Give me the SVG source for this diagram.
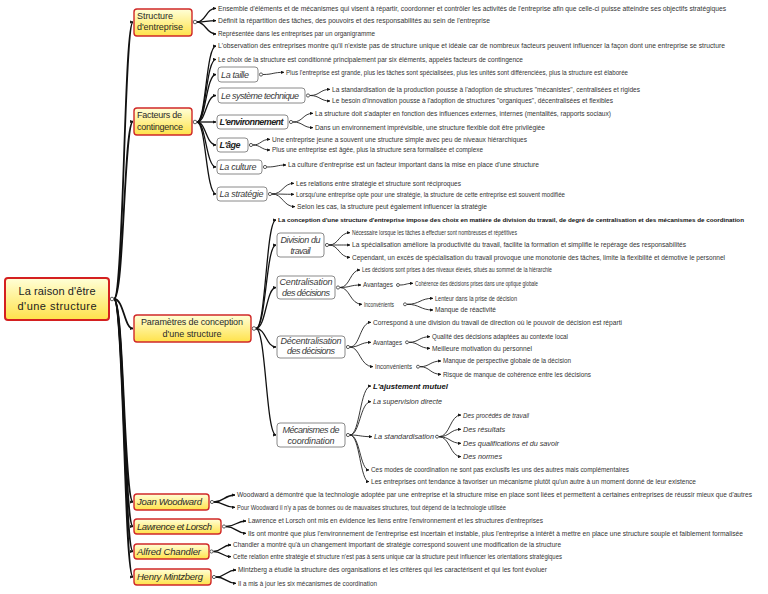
<svg xmlns="http://www.w3.org/2000/svg" width="768" height="594" viewBox="0 0 768 594">
<defs>
<linearGradient id="gy" x1="0" y1="0" x2="0" y2="1">
<stop offset="0" stop-color="#ffffd8"/>
<stop offset="1" stop-color="#ffe24a"/>
</linearGradient>
<marker id="ar" viewBox="0 0 6 6" refX="5.5" refY="3" markerWidth="3.2" markerHeight="3.2" markerUnits="userSpaceOnUse" orient="auto">
<path d="M0,0 L6,3 L0,6 Z" fill="#111"/>
</marker>
<style>
.c1{fill:none;stroke:#111;stroke-width:1.8;marker-end:url(#ar)}
.c2{fill:none;stroke:#111;stroke-width:1.3;marker-end:url(#ar)}
.c3{fill:none;stroke:#222;stroke-width:0.9;marker-end:url(#ar)}
.h{fill:#fff;stroke:#333;stroke-width:0.8}
.rootb{fill:url(#gy);stroke:#d42020;stroke-width:2}
.l1b{fill:url(#gy);stroke:#d02828;stroke-width:1.4}
.sb{fill:#fff;stroke:#8a8a8a;stroke-width:1}
text{font-family:"Liberation Sans",Arial,sans-serif}
.rt{font-size:11px;fill:#222;text-anchor:middle}
.l1t{font-size:9px;fill:#2a2a2a}
.l1i{font-size:9.5px;fill:#2a2a2a;font-style:italic}
.st{font-size:9px;fill:#3a3a3a;font-style:italic}
.stb{font-size:9px;fill:#222;font-style:italic;font-weight:bold}
.m{text-anchor:middle}
.lf{font-size:6.3px;fill:#333}
.lfb{font-size:6.1px;fill:#111;font-weight:bold}
.lfi{font-size:7px;fill:#333;font-style:italic}
.lfbi{font-size:7px;fill:#111;font-style:italic;font-weight:bold}
</style>
</defs>
<rect width="768" height="594" fill="#fff"/>

<g id="connectors">
<path class="c1" d="M114,299 C124,299 124,22 133,22"/>
<path class="c1" d="M114,299 C124,299 124,121.5 133,121.5"/>
<path class="c1" d="M114,299 C124,299 124,328.5 133,328.5"/>
<path class="c1" d="M114,299 C124,299 124,502 133,502"/>
<path class="c1" d="M114,299 C124,299 124,526.5 133,526.5"/>
<path class="c1" d="M114,299 C124,299 124,551.5 133,551.5"/>
<path class="c1" d="M114,299 C124,299 124,577 133,577"/>
<circle class="h" cx="112" cy="299" r="1.8"/>
<path class="c2" d="M197,22 C206,22 206,8.3 216,8.3"/>
<path class="c2" d="M197,22 C206,22 206,20.7 216,20.7"/>
<path class="c2" d="M197,22 C206,22 206,34 216,34"/>
<circle class="h" cx="195" cy="22" r="1.8"/>
<path class="c2" d="M197,122 C206,122 206,46 216,46"/>
<path class="c2" d="M197,122 C206,122 206,59.3 216,59.3"/>
<path class="c2" d="M197,122 C206,122 206,74.5 216,74.5"/>
<path class="c2" d="M197,122 C206,122 206,95.5 216,95.5"/>
<path class="c2" d="M197,122 C206,122 206,122 216,122"/>
<path class="c2" d="M197,122 C206,122 206,145 216,145"/>
<path class="c2" d="M197,122 C206,122 206,167 216,167"/>
<path class="c2" d="M197,122 C206,122 206,194 216,194"/>
<circle class="h" cx="195" cy="122" r="1.8"/>
<path class="c3" d="M263,74.5 C273,74.5 273,72.3 284,72.3"/>
<circle class="h" cx="261" cy="74.5" r="1.6"/>
<path class="c3" d="M310,95.5 C320,95.5 320,89.3 330,89.3"/>
<path class="c3" d="M310,95.5 C320,95.5 320,101 330,101"/>
<circle class="h" cx="308" cy="95.5" r="1.6"/>
<path class="c3" d="M293,122 C303,122 303,113.3 313,113.3"/>
<path class="c3" d="M293,122 C303,122 303,127.7 313,127.7"/>
<circle class="h" cx="291" cy="122" r="1.6"/>
<path class="c3" d="M253,145 C261,145 261,139.3 270,139.3"/>
<path class="c3" d="M253,145 C261,145 261,150 270,150"/>
<circle class="h" cx="251" cy="145" r="1.6"/>
<path class="c3" d="M267,167 C277,167 277,165 286,165"/>
<circle class="h" cx="265" cy="167" r="1.6"/>
<path class="c3" d="M272,194 C283,194 283,183.3 294,183.3"/>
<path class="c3" d="M272,194 C283,194 283,194.3 294,194.3"/>
<path class="c3" d="M272,194 C283,194 283,206.7 295,206.7"/>
<circle class="h" cx="270" cy="194" r="1.6"/>
<path class="c2" d="M256,328.5 C266,328.5 266,220 276,220"/>
<path class="c2" d="M256,328.5 C266,328.5 266,245 276,245"/>
<path class="c2" d="M256,328.5 C266,328.5 266,287.5 276,287.5"/>
<path class="c2" d="M256,328.5 C266,328.5 266,347 276,347"/>
<path class="c2" d="M256,328.5 C266,328.5 266,435 276,435"/>
<circle class="h" cx="254" cy="328.5" r="1.8"/>
<path class="c3" d="M329,245 C339,245 339,232.7 350,232.7"/>
<path class="c3" d="M329,245 C339,245 339,245 350,245"/>
<path class="c3" d="M329,245 C339,245 339,257.3 350,257.3"/>
<circle class="h" cx="327" cy="245" r="1.6"/>
<path class="c3" d="M340,287.5 C350,287.5 350,270 360,270"/>
<path class="c3" d="M340,287.5 C350,287.5 350,285 361,285"/>
<path class="c3" d="M340,287.5 C350,287.5 350,304.3 362,304.3"/>
<circle class="h" cx="338" cy="287.5" r="1.6"/>
<path class="c3" d="M400,285 C406,285 406,283.3 413,283.3"/>
<circle class="h" cx="398" cy="285" r="1.5"/>
<path class="c3" d="M407,304.3 C420,304.3 420,298.3 433,298.3"/>
<path class="c3" d="M407,304.3 C420,304.3 420,310 433,310"/>
<circle class="h" cx="405" cy="304.3" r="1.5"/>
<path class="c3" d="M350,347 C360,347 360,322.3 371,322.3"/>
<path class="c3" d="M350,347 C360,347 360,342.3 371,342.3"/>
<path class="c3" d="M350,347 C360,347 360,366.7 373,366.7"/>
<circle class="h" cx="348" cy="347" r="1.6"/>
<path class="c3" d="M409,342.3 C419,342.3 419,336.7 430,336.7"/>
<path class="c3" d="M409,342.3 C419,342.3 419,348.3 430,348.3"/>
<circle class="h" cx="407" cy="342.3" r="1.5"/>
<path class="c3" d="M420,366.7 C430,366.7 430,361 441,361"/>
<path class="c3" d="M420,366.7 C430,366.7 430,374.3 441,374.3"/>
<circle class="h" cx="418" cy="366.7" r="1.5"/>
<path class="c3" d="M350,435 C360,435 360,386 371,386"/>
<path class="c3" d="M350,435 C360,435 360,401.7 371,401.7"/>
<path class="c3" d="M350,435 C360,435 360,436.7 372,436.7"/>
<path class="c3" d="M350,435 C360,435 360,470 369,470"/>
<path class="c3" d="M350,435 C360,435 360,481.7 369,481.7"/>
<circle class="h" cx="348" cy="435" r="1.6"/>
<path class="c3" d="M439,436.7 C450,436.7 450,415 461,415"/>
<path class="c3" d="M439,436.7 C450,436.7 450,429.3 461,429.3"/>
<path class="c3" d="M439,436.7 C450,436.7 450,443.3 461,443.3"/>
<path class="c3" d="M439,436.7 C450,436.7 450,456.7 461,456.7"/>
<circle class="h" cx="437" cy="436.7" r="1.5"/>
<path class="c2" d="M214,502 C224,502 224,495 235,495"/>
<path class="c2" d="M214,502 C224,502 224,507.3 235,507.3"/>
<circle class="h" cx="212" cy="502" r="1.6"/>
<path class="c2" d="M226,526.5 C236,526.5 236,521 246,521"/>
<path class="c2" d="M226,526.5 C236,526.5 236,533.3 246,533.3"/>
<circle class="h" cx="224" cy="526.5" r="1.6"/>
<path class="c2" d="M213.5,551.5 C222,551.5 222,545 231,545"/>
<path class="c2" d="M213.5,551.5 C222,551.5 222,556.7 231,556.7"/>
<circle class="h" cx="211.5" cy="551.5" r="1.6"/>
<path class="c2" d="M216,577 C226,577 226,570 236,570"/>
<path class="c2" d="M216,577 C226,577 226,583.3 236,583.3"/>
<circle class="h" cx="214" cy="577" r="1.6"/>
</g>

<g id="root">
<rect class="rootb" x="5" y="278" width="104" height="42" rx="3"/>
<text class="rt" x="57" y="294.5" textLength="77">La raison d'être</text>
<text class="rt" x="57" y="310" textLength="79">d'une structure</text>
</g>

<g id="n-structure">
<rect class="l1b" x="134" y="9" width="58" height="27" rx="3"/>
<text class="l1t" x="137" y="19" textLength="36">Structure</text>
<text class="l1t" x="137" y="30" textLength="46">d'entreprise</text>
</g>
<g id="n-facteurs">
<rect class="l1b" x="134" y="108" width="58" height="27" rx="3"/>
<text class="l1t" x="137" y="118.3" textLength="45">Facteurs de</text>
<text class="l1t" x="137" y="130" textLength="46">contingence</text>
</g>
<g id="n-parametres">
<rect class="l1b" x="134" y="315" width="117" height="27" rx="3"/>
<text class="l1t m" x="192" y="324.5" textLength="102">Paramètres de conception</text>
<text class="l1t m" x="192" y="336.5" textLength="59">d'une structure</text>
</g>
<g id="n-woodward">
<rect class="l1b" x="134" y="494" width="75" height="16" rx="3"/>
<text class="l1i" x="137" y="505.3" textLength="65">Joan Woodward</text>
</g>
<g id="n-lawrence">
<rect class="l1b" x="134" y="519" width="87" height="15" rx="3"/>
<text class="l1i" x="137" y="529.8" textLength="75">Lawrence et Lorsch</text>
</g>
<g id="n-chandler">
<rect class="l1b" x="134" y="544" width="75" height="15" rx="3"/>
<text class="l1i" x="137" y="554.8" textLength="64">Alfred Chandler</text>
</g>
<g id="n-mintzberg">
<rect class="l1b" x="134" y="569" width="77" height="16" rx="3"/>
<text class="l1i" x="137" y="580.3" textLength="66">Henry Mintzberg</text>
</g>

<g id="n-taille"><rect class="sb" x="218" y="67" width="40" height="15" rx="3"/><text class="st" x="221" y="77.8" textLength="28">La taille</text></g>
<g id="n-systeme"><rect class="sb" x="218" y="88" width="87" height="15" rx="3"/><text class="st" x="221" y="98.8" textLength="78">Le système technique</text></g>
<g id="n-environnement"><rect class="sb" x="217" y="115" width="71" height="14" rx="3"/><text class="stb" x="219.5" y="125.2" textLength="64">L'environnement</text></g>
<g id="n-age"><rect class="sb" x="217" y="138" width="31" height="14" rx="3"/><text class="stb" x="219.5" y="148.2" textLength="21">L'âge</text></g>
<g id="n-culture"><rect class="sb" x="217" y="160" width="45" height="14" rx="3"/><text class="st" x="219.5" y="170.2" textLength="37">La culture</text></g>
<g id="n-strategie"><rect class="sb" x="217" y="187" width="50" height="14" rx="3"/><text class="st" x="219.5" y="197.2" textLength="44">La stratégie</text></g>

<g id="n-division"><rect class="sb" x="277" y="233" width="47" height="24" rx="3"/><text class="st m" x="300.5" y="243" textLength="40">Division du</text><text class="st m" x="300.5" y="253.7" textLength="20">travail</text></g>
<g id="n-centralisation"><rect class="sb" x="277" y="276" width="58" height="23" rx="3"/><text class="st m" x="306" y="284.7" textLength="53">Centralisation</text><text class="st m" x="306" y="295.7" textLength="48">des décisions</text></g>
<g id="n-decentralisation"><rect class="sb" x="277" y="336" width="68" height="22" rx="3"/><text class="st m" x="311" y="344.3" textLength="61">Décentralisation</text><text class="st m" x="311" y="354.3" textLength="48">des décisions</text></g>
<g id="n-mecanismes"><rect class="sb" x="277" y="423" width="68" height="24" rx="3"/><text class="st m" x="311" y="433" textLength="57">Mécanismes de</text><text class="st m" x="311" y="443.5" textLength="47">coordination</text></g>

<g id="leaves">
<g id="s1"><text class="lf" x="218" y="10.5" textLength="508" lengthAdjust="spacingAndGlyphs">Ensemble d'éléments et de mécanismes qui visent à répartir, coordonner et contrôler les activités de l'entreprise afin que celle-ci puisse atteindre ses objectifs stratégiques</text></g>
<g id="s2"><text class="lf" x="218" y="22.9" textLength="272" lengthAdjust="spacingAndGlyphs">Définit la répartition des tâches, des pouvoirs et des responsabilités au sein de l'entreprise</text></g>
<g id="s3"><text class="lf" x="218" y="36.2" textLength="157" lengthAdjust="spacingAndGlyphs">Représentée dans les entreprises par un organigramme</text></g>
<g id="f1"><text class="lf" x="218" y="48.2" textLength="507" lengthAdjust="spacingAndGlyphs">L'observation des entreprises montre qu'il n'existe pas de structure unique et idéale car de nombreux facteurs peuvent influencer la façon dont une entreprise se structure</text></g>
<g id="f2"><text class="lf" x="218" y="61.5" textLength="305" lengthAdjust="spacingAndGlyphs">Le choix de la structure est conditionné principalement par six éléments, appelés facteurs de contingence</text></g>
<g id="t1"><text class="lf" x="286" y="74.5" textLength="342" lengthAdjust="spacingAndGlyphs">Plus l'entreprise est grande, plus les tâches sont spécialisées, plus les unités sont différenciées, plus la structure est élaborée</text></g>
<g id="st1"><text class="lf" x="332" y="91.5" textLength="308" lengthAdjust="spacingAndGlyphs">La standardisation de la production pousse à l'adoption de structures "mécanistes", centralisées et rigides</text></g>
<g id="st2"><text class="lf" x="332" y="103.2" textLength="281" lengthAdjust="spacingAndGlyphs">Le besoin d'innovation pousse à l'adoption de structures "organiques", décentralisées et flexibles</text></g>
<g id="e1"><text class="lf" x="315" y="115.5" textLength="296" lengthAdjust="spacingAndGlyphs">La structure doit s'adapter en fonction des influences externes, internes (mentalités, rapports sociaux)</text></g>
<g id="e2"><text class="lf" x="315" y="129.9" textLength="230" lengthAdjust="spacingAndGlyphs">Dans un environnement imprévisible, une structure flexible doit être privilégiée</text></g>
<g id="a1"><text class="lf" x="272" y="141.5" textLength="255" lengthAdjust="spacingAndGlyphs">Une entreprise jeune a souvent une structure simple avec peu de niveaux hiérarchiques</text></g>
<g id="a2"><text class="lf" x="272" y="152.2" textLength="211" lengthAdjust="spacingAndGlyphs">Plus une entreprise est âgée, plus la structure sera formalisée et complexe</text></g>
<g id="c1"><text class="lf" x="288" y="167.2" textLength="251" lengthAdjust="spacingAndGlyphs">La culture d'entreprise est un facteur important dans la mise en place d'une structure</text></g>
<g id="sg1"><text class="lf" x="296" y="185.5" textLength="165" lengthAdjust="spacingAndGlyphs">Les relations entre stratégie et structure sont réciproques</text></g>
<g id="sg2"><text class="lf" x="296" y="196.5" textLength="269" lengthAdjust="spacingAndGlyphs">Lorsqu'une entreprise opte pour une stratégie, la structure de cette entreprise est souvent modifiée</text></g>
<g id="sg3"><text class="lf" x="297" y="208.9" textLength="190" lengthAdjust="spacingAndGlyphs">Selon les cas, la structure peut également influencer la stratégie</text></g>
<g id="p1"><text class="lfb" x="278" y="222.2" textLength="466" lengthAdjust="spacingAndGlyphs">La conception d'une structure d'entreprise impose des choix en matière de division du travail, de degré de centralisation et des mécanismes de coordination</text></g>
<g id="d1"><text class="lf" x="352" y="234.9" textLength="165" lengthAdjust="spacingAndGlyphs">Nécessaire lorsque les tâches à effectuer sont nombreuses et répétitives</text></g>
<g id="d2"><text class="lf" x="352" y="247.2" textLength="334" lengthAdjust="spacingAndGlyphs">La spécialisation améliore la productivité du travail, facilite la formation et simplifie le repérage des responsabilités</text></g>
<g id="d3"><text class="lf" x="352" y="259.5" textLength="373" lengthAdjust="spacingAndGlyphs">Cependant, un excès de spécialisation du travail provoque une monotonie des tâches, limite la flexibilité et démotive le personnel</text></g>
<g id="ce1"><text class="lf" x="362" y="272.2" textLength="190" lengthAdjust="spacingAndGlyphs">Les décisions sont prises à des niveaux élevés, situés au sommet de la hiérarchie</text></g>
<g id="ce2"><text class="lf" x="363" y="287.2" textLength="30" lengthAdjust="spacingAndGlyphs">Avantages</text></g>
<g id="ce2a"><text class="lf" x="415" y="285.5" textLength="123" lengthAdjust="spacingAndGlyphs">Cohérence des décisions prises dans une optique globale</text></g>
<g id="ce3"><text class="lf" x="364" y="306.5" textLength="30" lengthAdjust="spacingAndGlyphs">Inconvénients</text></g>
<g id="ce3a"><text class="lf" x="435" y="300.5" textLength="82" lengthAdjust="spacingAndGlyphs">Lenteur dans la prise de décision</text></g>
<g id="ce3b"><text class="lf" x="435" y="312.2" textLength="61" lengthAdjust="spacingAndGlyphs">Manque de réactivité</text></g>
<g id="de1"><text class="lf" x="373" y="324.5" textLength="249" lengthAdjust="spacingAndGlyphs">Correspond à une division du travail de direction où le pouvoir de décision est réparti</text></g>
<g id="de2"><text class="lf" x="373" y="344.5" textLength="29" lengthAdjust="spacingAndGlyphs">Avantages</text></g>
<g id="de2a"><text class="lf" x="432" y="338.9" textLength="136" lengthAdjust="spacingAndGlyphs">Qualité des décisions adaptées au contexte local</text></g>
<g id="de2b"><text class="lf" x="432" y="350.5" textLength="100" lengthAdjust="spacingAndGlyphs">Meilleure motivation du personnel</text></g>
<g id="de3"><text class="lf" x="375" y="368.9" textLength="37" lengthAdjust="spacingAndGlyphs">Inconvénients</text></g>
<g id="de3a"><text class="lf" x="443" y="363.2" textLength="128" lengthAdjust="spacingAndGlyphs">Manque de perspective globale de la décision</text></g>
<g id="de3b"><text class="lf" x="443" y="376.5" textLength="148" lengthAdjust="spacingAndGlyphs">Risque de manque de cohérence entre les décisions</text></g>
<g id="m1"><text class="lfbi" x="373" y="388.5" textLength="75" lengthAdjust="spacingAndGlyphs">L'ajustement mutuel</text></g>
<g id="m2"><text class="lfi" x="373" y="404.2" textLength="69" lengthAdjust="spacingAndGlyphs">La supervision directe</text></g>
<g id="m3"><text class="lfi" x="374" y="439.2" textLength="60" lengthAdjust="spacingAndGlyphs">La standardisation</text></g>
<g id="m3a"><text class="lfi" x="463" y="417.5" textLength="66" lengthAdjust="spacingAndGlyphs">Des procédés de travail</text></g>
<g id="m3b"><text class="lfi" x="463" y="431.8" textLength="42" lengthAdjust="spacingAndGlyphs">Des résultats</text></g>
<g id="m3c"><text class="lfi" x="463" y="445.8" textLength="96" lengthAdjust="spacingAndGlyphs">Des qualifications et du savoir</text></g>
<g id="m3d"><text class="lfi" x="463" y="459.2" textLength="39" lengthAdjust="spacingAndGlyphs">Des normes</text></g>
<g id="m4"><text class="lf" x="371" y="472.2" textLength="258" lengthAdjust="spacingAndGlyphs">Ces modes de coordination ne sont pas exclusifs les uns des autres mais complémentaires</text></g>
<g id="m5"><text class="lf" x="371" y="483.9" textLength="325" lengthAdjust="spacingAndGlyphs">Les entreprises ont tendance à favoriser un mécanisme plutôt qu'un autre à un moment donné de leur existence</text></g>
<g id="jw1"><text class="lf" x="237" y="497.2" textLength="515" lengthAdjust="spacingAndGlyphs">Woodward a démontré que la technologie adoptée par une entreprise et la structure mise en place sont liées et permettent à certaines entreprises de réussir mieux que d'autres</text></g>
<g id="jw2"><text class="lf" x="237" y="509.5" textLength="269" lengthAdjust="spacingAndGlyphs">Pour Woodward il n'y a pas de bonnes ou de mauvaises structures, tout dépend de la technologie utilisée</text></g>
<g id="ll1"><text class="lf" x="248" y="523.2" textLength="295" lengthAdjust="spacingAndGlyphs">Lawrence et Lorsch ont mis en évidence les liens entre l'environnement et les structures d'entreprises</text></g>
<g id="ll2"><text class="lf" x="248" y="535.5" textLength="495" lengthAdjust="spacingAndGlyphs">Ils ont montré que plus l'environnement de l'entreprise est incertain et instable, plus l'entreprise a intérêt à mettre en place une structure souple et faiblement formalisée</text></g>
<g id="ac1"><text class="lf" x="233" y="547.2" textLength="328" lengthAdjust="spacingAndGlyphs">Chandler a montré qu'à un changement important de stratégie correspond souvent une modification de la structure</text></g>
<g id="ac2"><text class="lf" x="233" y="558.9" textLength="329" lengthAdjust="spacingAndGlyphs">Cette relation entre stratégie et structure n'est pas à sens unique car la structure peut influencer les orientations stratégiques</text></g>
<g id="hm1"><text class="lf" x="238" y="572.2" textLength="309" lengthAdjust="spacingAndGlyphs">Mintzberg a étudié la structure des organisations et les critères qui les caractérisent et qui les font évoluer</text></g>
<g id="hm2"><text class="lf" x="238" y="585.5" textLength="139" lengthAdjust="spacingAndGlyphs">Il a mis à jour les six mécanismes de coordination</text></g>
</g>
</svg>
